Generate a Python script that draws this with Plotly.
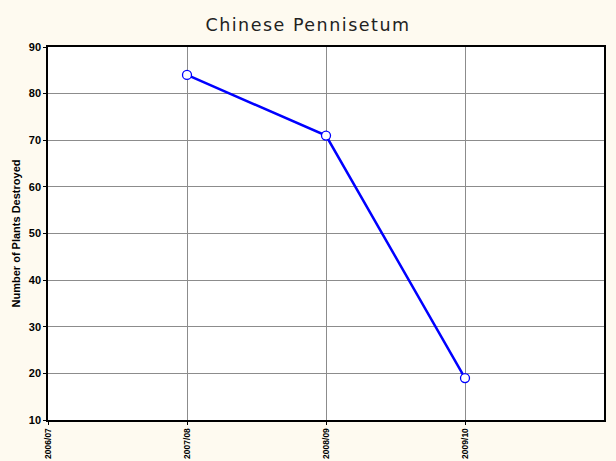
import plotly.graph_objects as go

seasons = ["2006/07", "2007/08", "2008/09", "2009/10"]
plot_seasons = ["2007/08", "2008/09", "2009/10"]
plants_destroyed = [84, 71, 19]
y_ticks = [10, 20, 30, 40, 50, 60, 70, 80, 90]

xpos = [seasons.index(s) for s in plot_seasons]

fig = go.Figure()
fig.add_trace(go.Scatter(
    x=xpos, y=plants_destroyed, mode="lines+markers",
    line=dict(color="#0000FF", width=2.5),
    marker=dict(symbol="circle", size=9, color="white",
                line=dict(color="#0000FF", width=1.3)),
    showlegend=False,
))

fig.update_layout(
    width=616, height=461,
    paper_bgcolor="#FEFAF0", plot_bgcolor="white",
    margin=dict(l=48, r=12, t=47, b=41),
    title=dict(text="Chinese Pennisetum", x=0.5, xanchor="center", y=0.947, yanchor="middle",
               font=dict(family="DejaVu Sans", size=17.5, color="#222")),
    xaxis=dict(range=[0, 4], tickmode="array", tickvals=list(range(len(seasons))),
               ticktext=seasons, tickangle=-90, showgrid=True, gridcolor="#8c8c8c", gridwidth=1,
               showline=True, linecolor="black", linewidth=1.5, mirror=True,
               ticks="outside", ticklen=3, tickcolor="black",
               tickfont=dict(family="Liberation Sans", size=8.5, color="black", weight="bold"),
               zeroline=False, automargin=False),
    yaxis=dict(range=[10, 90], tickmode="array", tickvals=y_ticks, showgrid=True,
               gridcolor="#8c8c8c", gridwidth=1, showline=True, linecolor="black", linewidth=1.5,
               mirror=True, ticks="outside", ticklen=3, tickcolor="black",
               tickfont=dict(family="Liberation Sans", size=11, color="black", weight="bold"),
               title=dict(text="<b>Number of Plants Destroyed</b>", standoff=6,
                          font=dict(family="Liberation Sans", size=11, color="black")),
               zeroline=False, automargin=False),
)

fig.write_html(
    "out.html", config={"displayModeBar": False},
    post_script=(
        "document.body.style.margin='0';document.body.style.overflow='hidden';"
        "var t=document.querySelector('.gtitle');if(t){t.style.letterSpacing='1.5px';}"
    ),
)
